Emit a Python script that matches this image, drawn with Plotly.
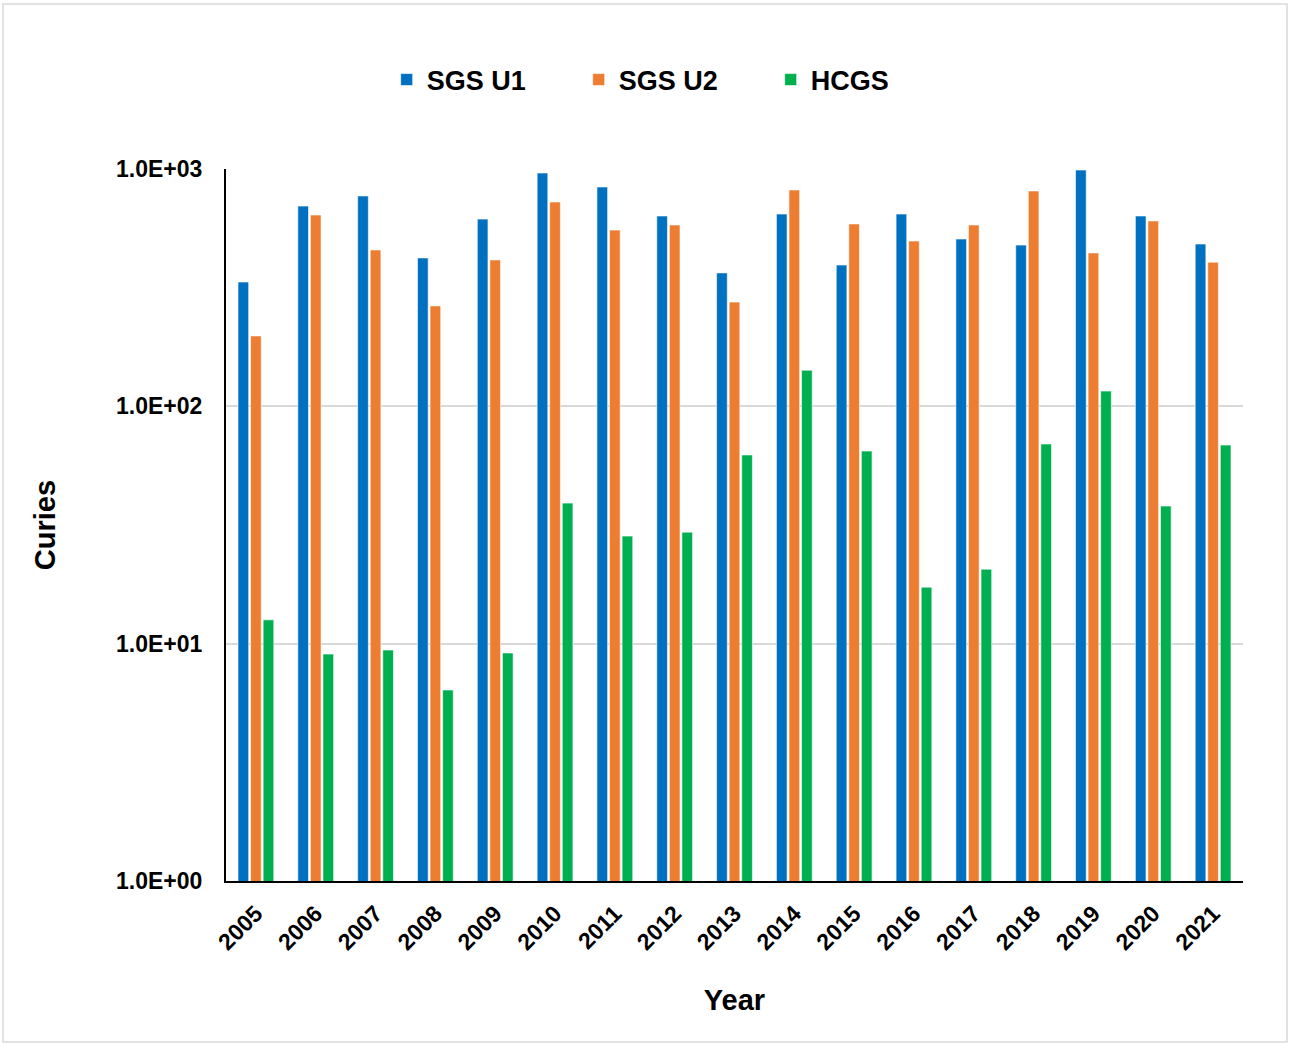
import plotly.graph_objects as go

years = [str(y) for y in range(2005, 2022)]
sgs_u1 = [334, 698, 770, 422, 615, 962, 840, 634, 365, 646, 394, 646, 507, 478, 990, 634, 483]
sgs_u2 = [198, 640, 456, 265, 414, 726, 553, 581, 275, 816, 587, 497, 581, 808, 443, 604, 405]
hcgs = [12.6, 9.04, 9.4, 6.38, 9.14, 39.1, 28.4, 29.5, 62.4, 142, 64.8, 17.3, 20.6, 69.4, 116, 38.0, 68.7]
tick_vals = [1, 10, 100, 1000]
tick_text = ["1.0E+00", "1.0E+01", "1.0E+02", "1.0E+03"]

font_family = "Liberation Sans, Arial, sans-serif"

fig = go.Figure()
for name, vals, col in [("SGS U1", sgs_u1, "#0070C0"),
                        ("SGS U2", sgs_u2, "#ED7D31"),
                        ("HCGS", hcgs, "#00B050")]:
    fig.add_trace(go.Bar(x=years, y=vals, name=name,
                         marker=dict(color=col, line=dict(color="rgba(255,255,255,0.6)", width=1))))

fig.update_layout(
    width=1289, height=1045,
    margin=dict(l=226, r=46, t=169, b=164),
    paper_bgcolor="white", plot_bgcolor="white",
    barmode="group", bargap=0.37, bargroupgap=0.15,
    font=dict(family=font_family, color="black"),
    legend=dict(orientation="h", x=0.158, xanchor="left", y=1.125, yanchor="middle",
                font=dict(size=27, family=font_family, weight="bold"),
                itemwidth=30, traceorder="normal", entrywidth=147),
    showlegend=True,
)
fig.update_xaxes(
    type="category", showline=True, linecolor="black", linewidth=2,
    showgrid=False, tickangle=-45,
    tickfont=dict(size=23, family=font_family, weight="bold"),
    ticklabelstandoff=8,
    title=dict(text="<b>Year</b>", font=dict(size=29, family=font_family), standoff=36),
    ticks="", mirror=False,
)
fig.update_yaxes(
    type="log", range=[0, 3], tickvals=tick_vals, ticktext=tick_text,
    showline=True, linecolor="black", linewidth=2,
    showgrid=True, gridcolor="#D9D9D9", gridwidth=2,
    tickfont=dict(size=23, family=font_family, weight="bold"),
    ticklabelstandoff=17,
    title=dict(text="<b>Curies</b>", font=dict(size=29, family=font_family), standoff=52),
)
fig.add_shape(type="rect", xref="paper", yref="paper",
              x0=(3 - 226) / 1017, x1=(1287 - 226) / 1017,
              y0=(881 - 1042) / 712, y1=(881 - 4) / 712,
              line=dict(color="#D9D9D9", width=1.5), fillcolor="rgba(0,0,0,0)", layer="below")

fig.write_html("out.html", config={"displayModeBar": False},
               post_script="document.body.style.margin='0';document.body.style.overflow='hidden';")
